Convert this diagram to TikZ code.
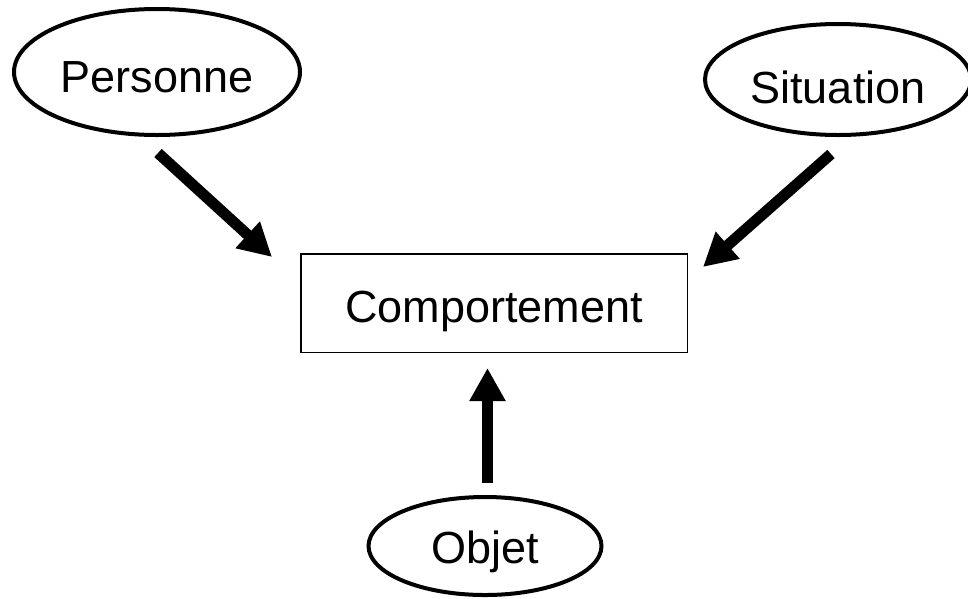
\documentclass[tikz,border=0pt]{standalone}
\usepackage{fontspec}
\setmainfont{Liberation Sans}
\usetikzlibrary{shapes.geometric,arrows.meta}
\begin{document}
\begin{tikzpicture}[x=1pt,y=-1pt,
  every node/.style={font=\fontsize{45}{54}\selectfont, inner sep=0pt, text depth=0pt},
  oval/.style={ellipse, draw, line width=4pt},
  boxnode/.style={rectangle, draw, line width=1.5pt},
  bigarrow/.style={line width=11pt, line cap=butt, -{Triangle[width=34pt,length=33pt]}}]
\useasboundingbox (0,0) rectangle (968,598);
\node[oval, minimum width=286pt, minimum height=126pt, text height=40pt] (pers) at (157,72) {Personne};
\node[oval, minimum width=266pt, minimum height=111pt, text height=47.5pt] (sit) at (838,79.5) {Situation};
\node[oval, minimum width=233pt, minimum height=98pt, text height=34pt] (obj) at (485,546) {Objet};
\node[boxnode, minimum width=386.5pt, minimum height=98.5pt, text height=38pt] (comp) at (494,303) {Comportement};
\coordinate (pt) at (158,153);
\coordinate (ph) at (272,257);
\coordinate (st) at (831,154);
\coordinate (sh) at (703,267);
\coordinate (ot) at (487.5,483);
\coordinate (oh) at (487.5,368);
\draw[bigarrow] (pt) -- (ph);
\draw[bigarrow] (st) -- (sh);
\draw[bigarrow] (ot) -- (oh);
\end{tikzpicture}
\end{document}
